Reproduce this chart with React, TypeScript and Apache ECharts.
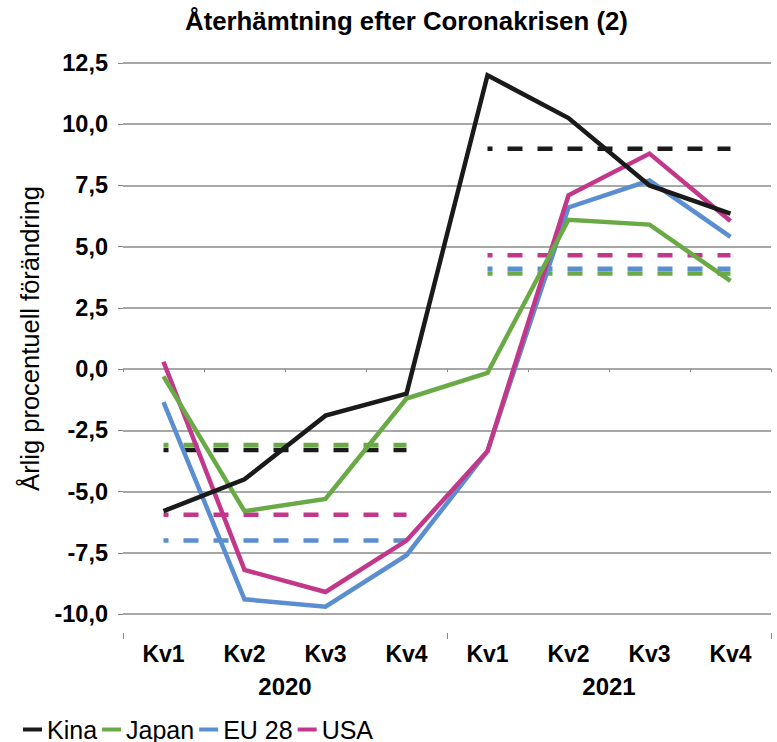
import React, { useEffect, useRef } from "react";
import * as echarts from "echarts";

const quarters = ["Kv1", "Kv2", "Kv3", "Kv4", "Kv1", "Kv2", "Kv3", "Kv4"];
const years = ["2020", "2021"];

const kina = [-5.8, -4.5, -1.9, -1.0, 12.0, 10.25, 7.5, 6.35];
const japan = [-0.3, -5.8, -5.3, -1.2, -0.15, 6.1, 5.9, 3.6];
const eu28 = [-1.35, -9.4, -9.7, -7.6, -3.35, 6.6, 7.7, 5.4];
const usa = [0.3, -8.2, -9.1, -7.0, -3.35, 7.1, 8.8, 6.05];

// yearly averages [2020, 2021]
const kinaAvg = [-3.3, 9.0];
const japanAvg = [-3.1, 3.9];
const eu28Avg = [-7.0, 4.1];
const usaAvg = [-5.95, 4.65];

const yTicks = { min: -10, max: 12.5, interval: 2.5 };

const COLORS = {
  Kina: "#1a1a1a",
  Japan: "#6aaa46",
  "EU 28": "#5b8ed0",
  USA: "#c2378a",
};

const FONT = "'Liberation Sans', Arial, sans-serif";

function avgSeries(avg: number[], yearIdx: number): (number | null)[] {
  return quarters.map((_, i) => (Math.floor(i / 4) === yearIdx ? avg[yearIdx] : null));
}

export default function App() {
  const ref = useRef<HTMLDivElement>(null);

  useEffect(() => {
    if (!ref.current) return;
    const chart = echarts.init(ref.current, undefined, { renderer: "svg" });

    const solid = (name: string, data: number[]) => ({
      name,
      type: "line",
      data,
      symbol: "none",
      lineStyle: { width: 4.5, color: (COLORS as any)[name], cap: "butt", join: "miter" },
      itemStyle: { color: (COLORS as any)[name] },
      z: 3,
    });

    const dashed = (name: string, avg: number[]) =>
      [0, 1].map((yi) => ({
        name: name + " snitt " + years[yi],
        type: "line",
        data: avgSeries(avg, yi),
        symbol: "none",
        connectNulls: false,
        lineStyle: {
          width: 4.5,
          color: (COLORS as any)[name],
          type: [15, 15],
          dashOffset: 10,
          cap: "butt",
        },
        z: 2,
      }));

    chart.setOption({
      animation: false,
      title: {
        text: "Återhämtning efter Coronakrisen (2)",
        left: 185,
        top: 8,
        padding: 0,
        textStyle: { fontFamily: FONT, fontSize: 25.8, fontWeight: "bold", color: "#000" },
      },
      grid: { left: 123, right: 6, top: 63, bottom: 128, containLabel: false },
      legend: {
        data: ["Kina", "Japan", "EU 28", "USA"],
        left: 23,
        top: 717,
        padding: 0,
        icon: "rect",
        itemWidth: 19,
        itemHeight: 4,
        itemGap: 5,
        textStyle: { fontFamily: FONT, fontSize: 25, color: "#000" },
      },
      xAxis: [
        {
          type: "category",
          data: quarters,
          boundaryGap: true,
          offset: 19,
          axisLine: { show: false },
          axisTick: { show: true, interval: 0, length: 3, lineStyle: { color: "#888" } },
          axisLabel: {
            interval: 0,
            margin: 9,
            fontFamily: FONT,
            fontSize: 23,
            fontWeight: "bold",
            color: "#000",
          },
        },
        {
          type: "category",
          data: years,
          position: "bottom",
          boundaryGap: true,
          offset: 19,
          axisLine: { show: false },
          axisTick: { show: true, interval: 0, length: 6, lineStyle: { color: "#888" } },
          axisLabel: {
            interval: 0,
            margin: 41,
            fontFamily: FONT,
            fontSize: 24,
            fontWeight: "bold",
            color: "#000",
          },
        },
      ],
      yAxis: {
        type: "value",
        min: yTicks.min,
        max: yTicks.max,
        interval: yTicks.interval,
        name: "Årlig procentuell förändring",
        nameLocation: "middle",
        nameRotate: 90,
        nameGap: 80,
        nameTextStyle: { fontFamily: FONT, fontSize: 25.5, color: "#000" },
        axisLine: { show: false },
        axisTick: { show: true, length: 5, lineStyle: { color: "#888" } },
        splitLine: { show: true, lineStyle: { color: "#8a8a8a", width: 1.5 } },
        axisLabel: {
          margin: 15,
          fontFamily: FONT,
          fontSize: 23.5,
          fontWeight: "bold",
          color: "#000",
          formatter: (v: number) => v.toFixed(1).replace(".", ","),
        },
      },
      series: [
        ...dashed("EU 28", eu28Avg),
        ...dashed("USA", usaAvg),
        ...dashed("Kina", kinaAvg),
        ...dashed("Japan", japanAvg),
        solid("EU 28", eu28),
        solid("USA", usa),
        solid("Japan", japan),
        solid("Kina", kina),
      ],
    });

    return () => chart.dispose();
  }, []);

  return (
    <div
      ref={ref}
      style={{ position: "absolute", left: 0, top: 0, width: 777, height: 742 }}
    />
  );
}
